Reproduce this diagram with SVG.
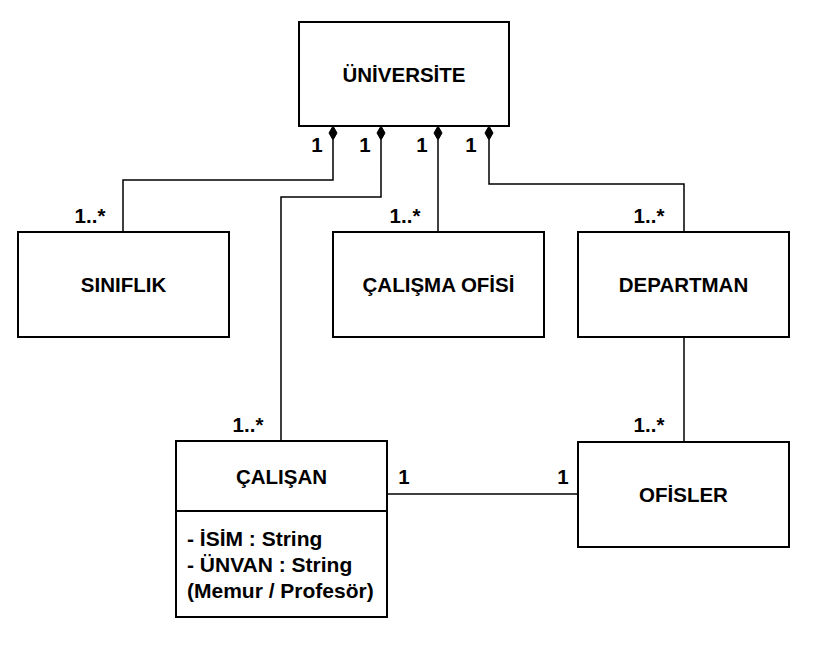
<svg xmlns="http://www.w3.org/2000/svg" width="827" height="645" viewBox="0 0 827 645">
<style>
.box{fill:#fff;stroke:#000;stroke-width:2}
.t{font-family:"Liberation Sans",Arial,sans-serif;font-weight:bold;font-size:20.5px;fill:#000}
.a{font-size:21px}
.c{text-anchor:middle}
.ln{fill:none;stroke:#000;stroke-width:1.5}
.dm{fill:#000;stroke:#000;stroke-width:1}
</style>
<rect width="827" height="645" fill="#fff"/>
<g id="connectors">
<path class="ln" d="M333,140 V180 H123 V232"/>
<path class="ln" d="M381,140 V197 H281 V441"/>
<path class="ln" d="M438,140 V232"/>
<path class="ln" d="M489,140 V184 H684 V232"/>
<path class="ln" d="M684,337 V442"/>
<path class="ln" d="M387,494 H578"/>
<path class="dm" d="M333,126 L337,133 L333,140 L329,133 Z"/>
<path class="dm" d="M381,126 L385,133 L381,140 L377,133 Z"/>
<path class="dm" d="M438,126 L442,133 L438,140 L434,133 Z"/>
<path class="dm" d="M489,126 L493,133 L489,140 L485,133 Z"/>
<text class="t c" x="317" y="152">1</text>
<text class="t c" x="365" y="152">1</text>
<text class="t c" x="422" y="152">1</text>
<text class="t c" x="471" y="152">1</text>
<text class="t c" x="90" y="223">1..*</text>
<text class="t c" x="405" y="223">1..*</text>
<text class="t c" x="649" y="223">1..*</text>
<text class="t c" x="248" y="432">1..*</text>
<text class="t c" x="649" y="432">1..*</text>
<text class="t c" x="404" y="484">1</text>
<text class="t c" x="563" y="484">1</text>
</g>
<g id="universite">
<rect class="box" x="299" y="22" width="210" height="104"/>
<text class="t c" x="404" y="82">ÜNİVERSİTE</text>
</g>
<g id="siniflik">
<rect class="box" x="18" y="232" width="211" height="105"/>
<text class="t c" x="123.5" y="292">SINIFLIK</text>
</g>
<g id="calisma-ofisi">
<rect class="box" x="333" y="232" width="211" height="105"/>
<text class="t c" x="438.5" y="292">ÇALIŞMA OFİSİ</text>
</g>
<g id="departman">
<rect class="box" x="578" y="232" width="211" height="105"/>
<text class="t c" x="683.5" y="292">DEPARTMAN</text>
</g>
<g id="calisan">
<rect class="box" x="176" y="441" width="211" height="176"/>
<line x1="176" y1="511" x2="387" y2="511" stroke="#000" stroke-width="2"/>
<text class="t c" x="281.5" y="484">ÇALIŞAN</text>
<text class="t a" x="187" y="546">- İSİM : String</text>
<text class="t a" x="187" y="572">- ÜNVAN : String</text>
<text class="t a" x="187" y="598">(Memur / Profesör)</text>
</g>
<g id="ofisler">
<rect class="box" x="578" y="442" width="211" height="105"/>
<text class="t c" x="683.5" y="502">OFİSLER</text>
</g>
</svg>
